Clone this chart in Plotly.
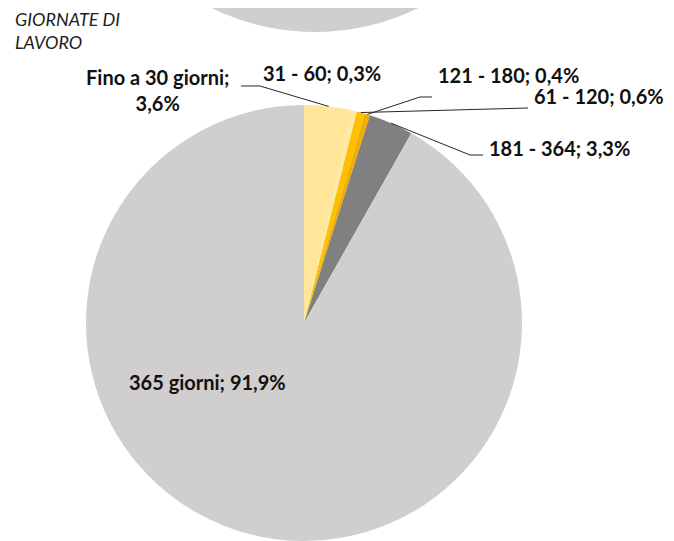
import math
import plotly.graph_objects as go

# the page puts the figure 8px in from the top-left corner
OFF = 8
W, H = 674 - OFF, 541 - OFF

# data
categories = ["Fino a 30 giorni", "31 - 60", "61 - 120", "121 - 180", "181 - 364", "365 giorni"]
shares = [3.6, 0.3, 0.6, 0.4, 3.3, 91.9]
share_labels = ["3,6%", "0,3%", "0,6%", "0,4%", "3,3%", "91,9%"]
colors = ["#FFE699", "#FFE9A6", "#FFC000", "#F0AE00", "#808080", "#D0CECE"]
chart_title = "GIORNATE DI<br>LAVORO"

# pie geometry in page pixels
cx, cy, r = 304, 323, 218


def px(x):
    return (x - OFF) / W


def py(y):
    return 1 - (y - OFF) / H


fig = go.Figure(
    go.Pie(
        values=shares,
        labels=categories,
        sort=False,
        direction="clockwise",
        rotation=0,
        marker=dict(colors=colors, line=dict(width=0)),
        textinfo="none",
        hovertemplate="%{label}: %{value}%<extra></extra>",
        showlegend=False,
        domain=dict(x=[px(cx - r), px(cx + r)], y=[max(0, py(cy + r)), py(cy - r)]),
    )
)

# mid angle of each slice -> point on the rim for the leader lines
total = sum(shares)
mids = []
acc = 0
for v in shares:
    mids.append((acc + v / 2) / total * 2 * math.pi)
    acc += v


def rim(i):
    a = mids[i]
    return cx + r * math.sin(a), cy - r * math.cos(a)


# leader elbows (label side first)
leaders = {
    0: [(241, 86), (260, 86)],
    3: [(432, 97), (420, 97)],
    2: [(528, 108)],
    4: [(483, 155), (470, 155)],
}
shapes = []
for i, pts in leaders.items():
    pts = pts + [rim(i)]
    path = "M " + " L ".join(f"{px(x):.5f},{py(y):.5f}" for x, y in pts)
    shapes.append(dict(type="path", xref="paper", yref="paper", path=path,
                       line=dict(color="#262626", width=1)))

# cut-off pie of the chart above
shapes.append(dict(type="circle", xref="paper", yref="paper",
                   x0=px(81), x1=px(549), y0=py(32), y1=py(-436),
                   fillcolor="#D0CECE", line=dict(width=0), layer="below"))

# label positions: (x, y, xanchor)
label_pos = {
    0: (157, 90, "center"),
    1: (322, 73, "center"),
    2: (532, 96, "left"),
    3: (436, 75, "left"),
    4: (487, 148, "left"),
    5: (207, 382, "center"),
}
annotations = []
for i, (x, y, anchor) in label_pos.items():
    sep = ";<br>" if i == 0 else "; "
    annotations.append(dict(
        text=f"<b>{categories[i]}{sep}{share_labels[i]}</b>",
        x=px(x), y=py(y), xref="paper", yref="paper",
        xanchor=anchor, yanchor="middle", align="center", showarrow=False,
        font=dict(family="Lato", size=20, color="#111111"),
    ))

annotations.append(dict(
    text=f"<i>{chart_title}</i>",
    x=px(13), y=py(30), xref="paper", yref="paper",
    xanchor="left", yanchor="middle", align="left", showarrow=False,
    font=dict(family="Lato", size=18, color="#1e1e1e"),
))

fig.update_layout(
    width=W, height=H,
    margin=dict(l=0, r=0, t=0, b=0),
    paper_bgcolor="white", plot_bgcolor="white",
    shapes=shapes,
    annotations=annotations,
)

fig.write_html("out.html")
